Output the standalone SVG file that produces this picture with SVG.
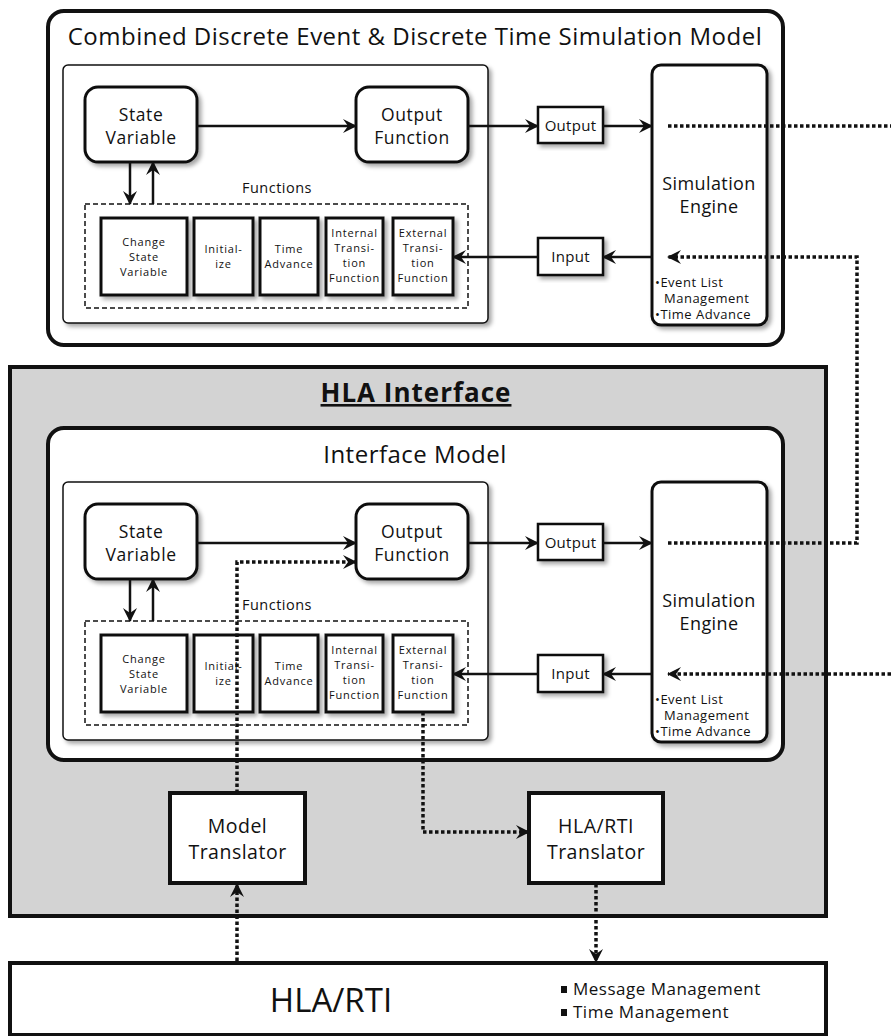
<svg xmlns="http://www.w3.org/2000/svg" width="891" height="1036" viewBox="0 0 891 1036">
  <style>
    text { font-family: "Open Sans", Lato, "DejaVu Sans", sans-serif; fill: #111; text-anchor: middle; }
    .frame { fill: #fff; stroke: #111; stroke-width: 4; }
    .panel { fill: #fff; stroke: #111; stroke-width: 1.5; }
    .rbox { fill: #fff; stroke: #111; stroke-width: 3; }
    .fbox { fill: #fff; stroke: #111; stroke-width: 3; }
    .pbox { fill: #fff; stroke: #111; stroke-width: 2.5; }
    .tbox { fill: #fff; stroke: #111; stroke-width: 4; }
    .dash { fill: none; stroke: #111; stroke-width: 1.5; stroke-dasharray: 5 3; }
    .title { font-size: 24px; letter-spacing: 0.5px; }
    .head { font-size: 26px; font-weight: bold; letter-spacing: 1px; text-decoration: underline; }
    .big { font-size: 18px; letter-spacing: 0.4px; }
    .sv { font-size: 17.5px; letter-spacing: 0.6px; }
    .tr { font-size: 19.5px; letter-spacing: 0.5px; }
    .mid { font-size: 15px; letter-spacing: 0.3px; }
    .fn { font-size: 14.5px; letter-spacing: 0.5px; }
    .small { font-size: 11px; letter-spacing: 0.8px; }
    .bul { font-size: 13px; letter-spacing: 0.5px; text-anchor: start; }
    .rti { font-size: 33px; }
    .svc { font-size: 17px; letter-spacing: 0.5px; text-anchor: start; }
    .solid { fill: none; stroke: #111; stroke-width: 2.5; marker-end: url(#arrow); }
    .dotted { fill: none; stroke: #111; stroke-width: 3.5; stroke-dasharray: 3.5 2.5; marker-end: url(#arrow); }
    .dotted.plain { marker-end: none; }
  </style>
  <defs>
    <marker id="arrow" viewBox="0 0 14 14" markerWidth="14" markerHeight="14" refX="13" refY="7" orient="auto" markerUnits="userSpaceOnUse">
      <path d="M0,0 L14,7 L0,14 L5,7 Z" fill="#111"/>
    </marker>
    <filter id="shadow" x="-10%" y="-10%" width="130%" height="130%">
      <feDropShadow dx="3" dy="3" stdDeviation="2" flood-color="#000" flood-opacity="0.35"/>
    </filter>
  </defs>

  <!-- ===== Combined simulation model (top) ===== -->
  <g id="sim-model">
    <rect class="frame" x="48" y="11" width="735" height="334" rx="16"/>
    <text class="title" x="415" y="45">Combined Discrete Event &amp; Discrete Time Simulation Model</text>
  </g>
  <g id="sim-panel">
    <rect class="panel" x="63" y="65" width="425" height="258" rx="5" filter="url(#shadow)"/>
  </g>
  <g id="sim-state-variable">
    <rect class="rbox" x="85" y="87" width="112" height="75" rx="13" filter="url(#shadow)"/>
    <text class="sv" x="141" y="121">State</text>
    <text class="sv" x="141" y="144">Variable</text>
  </g>
  <g id="sim-output-function">
    <rect class="rbox" x="356" y="87" width="112" height="75" rx="13" filter="url(#shadow)"/>
    <text class="sv" x="412" y="121">Output</text>
    <text class="sv" x="412" y="144">Function</text>
  </g>
  <g id="sim-functions">
    <text class="fn" x="277" y="193">Functions</text>
    <rect class="dash" x="85" y="204" width="383" height="104"/>
  </g>
  <g id="sim-change-state">
    <rect class="fbox" x="101" y="218" width="86" height="77" filter="url(#shadow)"/>
    <text class="small" x="144" y="246">Change</text>
    <text class="small" x="144" y="261">State</text>
    <text class="small" x="144" y="276">Variable</text>
  </g>
  <g id="sim-initialize">
    <rect class="fbox" x="194" y="218" width="59" height="77" filter="url(#shadow)"/>
    <text class="small" x="223.5" y="253">Initial-</text>
    <text class="small" x="223.5" y="268">ize</text>
  </g>
  <g id="sim-time-advance">
    <rect class="fbox" x="260" y="218" width="58" height="77" filter="url(#shadow)"/>
    <text class="small" x="289" y="253">Time</text>
    <text class="small" x="289" y="268">Advance</text>
  </g>
  <g id="sim-internal">
    <rect class="fbox" x="326" y="218" width="57" height="77" filter="url(#shadow)"/>
    <text class="small" x="354.5" y="237">Internal</text>
    <text class="small" x="354.5" y="252">Transi-</text>
    <text class="small" x="354.5" y="267">tion</text>
    <text class="small" x="354.5" y="282">Function</text>
  </g>
  <g id="sim-external">
    <rect class="fbox" x="393" y="218" width="60" height="77" filter="url(#shadow)"/>
    <text class="small" x="423" y="237">External</text>
    <text class="small" x="423" y="252">Transi-</text>
    <text class="small" x="423" y="267">tion</text>
    <text class="small" x="423" y="282">Function</text>
  </g>
  <g id="sim-output">
    <rect class="pbox" x="538" y="107" width="65" height="36" filter="url(#shadow)"/>
    <text class="mid" x="570.5" y="131">Output</text>
  </g>
  <g id="sim-input">
    <rect class="pbox" x="538" y="238" width="65" height="37" filter="url(#shadow)"/>
    <text class="mid" x="570.5" y="262">Input</text>
  </g>
  <g id="sim-engine">
    <rect class="rbox" x="652" y="65" width="115" height="260" rx="9" filter="url(#shadow)"/>
    <text class="big" x="709" y="190">Simulation</text>
    <text class="big" x="709" y="213">Engine</text>
    <text class="bul" x="655" y="287">•Event List</text>
    <text class="bul" x="664" y="303">Management</text>
    <text class="bul" x="655" y="319">•Time Advance</text>
  </g>

  <!-- ===== HLA interface (middle) ===== -->
  <g id="hla-interface">
    <rect x="10" y="367" width="816" height="549" fill="#d3d3d3" stroke="#111" stroke-width="4"/>
    <text class="head" x="416" y="402">HLA Interface</text>
  </g>
  <g id="interface-model">
    <rect class="frame" x="48" y="428" width="735" height="332" rx="16"/>
    <text class="title" x="415" y="463">Interface Model</text>
  </g>
  <g id="if-panel">
    <rect class="panel" x="63" y="482" width="425" height="258" rx="5" filter="url(#shadow)"/>
  </g>
  <g id="if-state-variable">
    <rect class="rbox" x="85" y="504" width="112" height="75" rx="13" filter="url(#shadow)"/>
    <text class="sv" x="141" y="538">State</text>
    <text class="sv" x="141" y="561">Variable</text>
  </g>
  <g id="if-output-function">
    <rect class="rbox" x="356" y="504" width="112" height="75" rx="13" filter="url(#shadow)"/>
    <text class="sv" x="412" y="538">Output</text>
    <text class="sv" x="412" y="561">Function</text>
  </g>
  <g id="if-functions">
    <text class="fn" x="277" y="610">Functions</text>
    <rect class="dash" x="85" y="621" width="383" height="104"/>
  </g>
  <g id="if-change-state">
    <rect class="fbox" x="101" y="635" width="86" height="77" filter="url(#shadow)"/>
    <text class="small" x="144" y="663">Change</text>
    <text class="small" x="144" y="678">State</text>
    <text class="small" x="144" y="693">Variable</text>
  </g>
  <g id="if-initialize">
    <rect class="fbox" x="194" y="635" width="59" height="77" filter="url(#shadow)"/>
    <text class="small" x="223.5" y="670">Initial-</text>
    <text class="small" x="223.5" y="685">ize</text>
  </g>
  <g id="if-time-advance">
    <rect class="fbox" x="260" y="635" width="58" height="77" filter="url(#shadow)"/>
    <text class="small" x="289" y="670">Time</text>
    <text class="small" x="289" y="685">Advance</text>
  </g>
  <g id="if-internal">
    <rect class="fbox" x="326" y="635" width="57" height="77" filter="url(#shadow)"/>
    <text class="small" x="354.5" y="654">Internal</text>
    <text class="small" x="354.5" y="669">Transi-</text>
    <text class="small" x="354.5" y="684">tion</text>
    <text class="small" x="354.5" y="699">Function</text>
  </g>
  <g id="if-external">
    <rect class="fbox" x="393" y="635" width="60" height="77" filter="url(#shadow)"/>
    <text class="small" x="423" y="654">External</text>
    <text class="small" x="423" y="669">Transi-</text>
    <text class="small" x="423" y="684">tion</text>
    <text class="small" x="423" y="699">Function</text>
  </g>
  <g id="if-output">
    <rect class="pbox" x="538" y="524" width="65" height="36" filter="url(#shadow)"/>
    <text class="mid" x="570.5" y="548">Output</text>
  </g>
  <g id="if-input">
    <rect class="pbox" x="538" y="655" width="65" height="37" filter="url(#shadow)"/>
    <text class="mid" x="570.5" y="679">Input</text>
  </g>
  <g id="if-engine">
    <rect class="rbox" x="652" y="482" width="115" height="260" rx="9" filter="url(#shadow)"/>
    <text class="big" x="709" y="607">Simulation</text>
    <text class="big" x="709" y="630">Engine</text>
    <text class="bul" x="655" y="704">•Event List</text>
    <text class="bul" x="664" y="720">Management</text>
    <text class="bul" x="655" y="736">•Time Advance</text>
  </g>
  <g id="model-translator">
    <rect class="tbox" x="170" y="793" width="135" height="90"/>
    <text class="tr" x="237.5" y="833">Model</text>
    <text class="tr" x="237.5" y="859">Translator</text>
  </g>
  <g id="hla-rti-translator">
    <rect class="tbox" x="529" y="793" width="134" height="90"/>
    <text class="tr" x="596" y="833">HLA/RTI</text>
    <text class="tr" x="596" y="859">Translator</text>
  </g>

  <!-- ===== HLA/RTI (bottom) ===== -->
  <g id="hla-rti">
    <rect class="tbox" x="10" y="963" width="816" height="72"/>
    <text class="rti" x="331" y="1012">HLA/RTI</text>
    <rect x="561" y="986" width="6" height="7" fill="#111"/>
    <rect x="561" y="1009" width="6" height="7" fill="#111"/>
    <text class="svc" x="573" y="995">Message Management</text>
    <text class="svc" x="573" y="1018">Time Management</text>
  </g>

  <!-- ===== Connectors ===== -->
  <g id="connectors">
    <!-- combined model, solid -->
    <line class="solid" x1="197" y1="126" x2="356" y2="126"/>
    <line class="solid" x1="468" y1="126" x2="538" y2="126"/>
    <line class="solid" x1="603" y1="126" x2="652" y2="126"/>
    <line class="solid" x1="652" y1="257" x2="603" y2="257"/>
    <line class="solid" x1="538" y1="257" x2="453" y2="257"/>
    <line class="solid" x1="130" y1="162" x2="130" y2="204"/>
    <line class="solid" x1="153" y1="204" x2="153" y2="162"/>
    <!-- interface model, solid -->
    <line class="solid" x1="197" y1="543" x2="356" y2="543"/>
    <line class="solid" x1="468" y1="543" x2="538" y2="543"/>
    <line class="solid" x1="603" y1="543" x2="652" y2="543"/>
    <line class="solid" x1="652" y1="674" x2="603" y2="674"/>
    <line class="solid" x1="538" y1="674" x2="453" y2="674"/>
    <line class="solid" x1="130" y1="579" x2="130" y2="621"/>
    <line class="solid" x1="153" y1="621" x2="153" y2="579"/>
    <!-- federation links, dotted -->
    <line class="dotted plain" x1="668" y1="126" x2="891" y2="126"/>
    <path class="dotted" d="M668,543 L857,543 L857,257 L668,257"/>
    <line class="dotted" x1="891" y1="674" x2="668" y2="674"/>
    <path class="dotted" d="M237,793 L237,562 L356,562"/>
    <path class="dotted" d="M423,712 L423,832 L529,832"/>
    <line class="dotted" x1="237" y1="961" x2="237" y2="884"/>
    <line class="dotted" x1="596" y1="884" x2="596" y2="962"/>
  </g>
</svg>
